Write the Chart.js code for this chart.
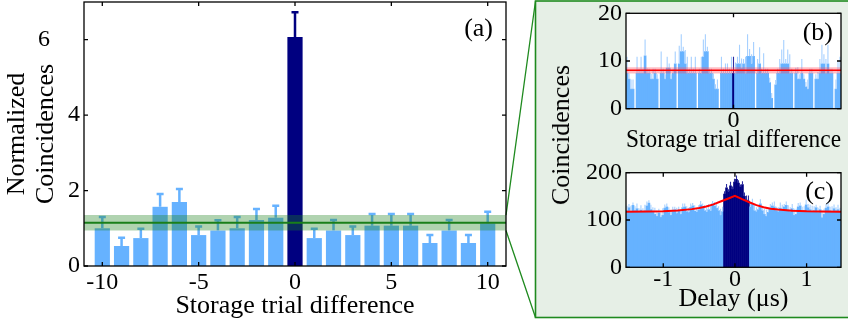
<!DOCTYPE html>
<html>
<head>
<meta charset="utf-8">
<script src="https://cdn.jsdelivr.net/npm/chart.js@4.4.1/dist/chart.umd.min.js"></script>
<style>
  html, body { margin: 0; padding: 0; background: #fff; }
  #wrap { position: relative; width: 848px; height: 327px; overflow: hidden; }
  #wrap canvas { position: absolute; left: 0; top: 0; }
  #insetTitle {
    position: absolute; left: 561px; top: 135px;
    transform: translate(-50%, -50%) rotate(-90deg);
    font: 26px 'Liberation Serif'; line-height: 1; white-space: nowrap; color: #000;
  }
</style>
</head>
<body>
<div id="wrap">
  <canvas id="chartA" width="848" height="327"></canvas>
  <canvas id="chartB" width="848" height="327"></canvas>
  <canvas id="chartC" width="848" height="327"></canvas>
  <div id="insetTitle">Coincidences</div>
</div>
<script>
// Panel (a): normalized coincidences vs storage trial difference
const aTrials = [-10, -9, -8, -7, -6, -5, -4, -3, -2, -1, 0, 1, 2, 3, 4, 5, 6, 7, 8, 9, 10];
const aValues = [1.00, 0.53, 0.74, 1.57, 1.70, 0.82, 0.94, 1.00, 1.22, 1.28, 6.07,
                 0.74, 0.94, 0.82, 1.07, 1.07, 1.07, 0.61, 0.94, 0.61, 1.13];
const aErrors = [0.30, 0.22, 0.25, 0.34, 0.34, 0.23, 0.27, 0.30, 0.29, 0.32, 0.66,
                 0.25, 0.28, 0.23, 0.31, 0.31, 0.31, 0.21, 0.28, 0.21, 0.31];
const aMean = 1.15;
const aBand = [0.94, 1.35];
const aXTicks = [-10, -5, 0, 5, 10];
const aYTicks = [0, 2, 4, 6];

// Panel (b): raw coincidences, one bin per storage trial difference
const bTrials = Array.from({length: 107}, (_, i) => i - 53);
const bValues = [
  7.4, 6.2, 4.1, 4.1, 0, 7.4, 7.4, 7.4, 7.4, 11.1,
  7.4, 7.4, 6.2, 6.2, 7.4, 6.2, 0, 7.4, 7.4, 6.2,
  8.5, 8.5, 6.2, 7.4, 9.4, 0, 9.4, 12.0, 12.0, 9.4,
  7.4, 7.4, 7.4, 7.4, 7.4, 0, 7.4, 7.4, 10.9, 12.0,
  12.0, 7.4, 7.4, 6.2, 4.1, 4.1, 0, 7.4, 7.4, 7.4,
  7.4, 7.4, 7.4,
  7.4,
  7.4, 9.4, 9.4, 8.5, 9.4, 7.4, 11.0, 11.0, 9.4, 11.0,
  0, 7.4, 9.4, 7.4, 7.4, 7.4, 7.4, 5.5, 2.2, 0,
  5.0, 7.4, 7.4, 9.4, 9.4, 9.4, 9.4, 7.4, 7.4, 0,
  7.4, 6.2, 6.2, 7.4, 6.2, 4.6, 4.1, 7.4, 7.4, 0,
  6.2, 6.2, 7.4, 9.4, 9.4, 7.4, 9.4, 7.4, 7.4, 0,
  4.1, 7.4, 7.4
];
const bErrors = [
  3.5, 1.2, 2.0, 2.0, 0, 3.5, 1.0, 3.5, 1.0, 3.4,
  1.1, 1.0, 1.1, 2.2, 1.0, 1.0, 0, 4.6, 1.0, 1.0,
  2.4, 1.0, 1.0, 1.0, 2.6, 0, 3.8, 3.6, 1.0, 2.9,
  3.5, 1.0, 3.5, 1.0, 3.5, 0, 1.0, 3.5, 3.6, 3.6,
  1.0, 1.0, 1.0, 1.2, 1.0, 2.0, 0, 3.5, 1.0, 2.1,
  2.1, 1.0, 3.5,
  3.5,
  2.3, 1.5, 4.0, 2.0, 1.0, 3.5, 4.6, 1.5, 2.0, 3.0,
  0, 3.0, 3.5, 1.0, 4.2, 1.0, 1.0, 1.0, 1.1, 0,
  1.0, 1.0, 3.0, 3.0, 5.0, 1.0, 3.0, 4.0, 1.0, 0,
  1.2, 2.5, 1.0, 3.0, 1.0, 1.0, 2.0, 1.0, 1.0, 0,
  1.0, 1.5, 3.0, 4.0, 2.0, 3.0, 4.0, 1.0, 1.0, 0,
  2.0, 2.5, 3.5
];
const bMean = 8.05;
const bBand = [7.4, 8.7];
const bXTicks = [0];
const bYTicks = [0, 10, 20];

// Panel (c): coincidences vs delay (us)
const cStart = -1.52;
const cStep = 3 / 108;
const cCounts = [
  120, 126, 118, 131, 120, 124, 118, 121, 117, 120,
  130, 136, 122, 119, 112, 108, 115, 106, 110, 125,
  128, 116, 110, 118, 122, 114, 120, 112, 126, 128,
  118, 116, 127, 130, 119, 117, 121, 132, 128, 120,
  117, 122, 119, 134, 130, 125, 120, 110, 118,
  155, 168, 160, 172, 165, 180, 186, 178, 170, 175, 150, 142, 140,
  128, 135, 120, 118, 122, 134, 120, 112, 108, 116,
  124, 130, 128, 120, 118, 125, 122, 128, 131, 120,
  118, 124, 110, 112, 128, 130, 118, 120, 132, 126,
  122, 118, 120, 126, 116, 122, 105, 112, 125, 128,
  120, 118, 124, 120, 122, 118
];
const cErrors = [
  10, 8, 12, 6, 9, 11, 7, 10, 8, 12,
  9, 6, 10, 8, 14, 12, 9, 10, 15, 8,
  7, 11, 9, 10, 6, 12, 8, 10, 9, 7,
  11, 10, 8, 6, 12, 9, 10, 8, 7, 11,
  9, 12, 10, 6, 8, 10, 9, 14, 10,
  6, 8, 5, 9, 6, 7, 8, 6, 5, 7, 8, 10, 12,
  8, 10, 12, 9, 6, 10, 8, 12, 14, 9,
  10, 7, 11, 8, 9, 12, 10, 6, 8, 11,
  9, 10, 14, 12, 8, 7, 10, 9, 11, 8,
  10, 12, 9, 6, 10, 8, 15, 12, 9, 10,
  8, 11, 9, 7, 10, 8
];
const cDelays = cCounts.map((_, i) => cStart + (i + 0.5) * cStep);
const cWindow = [-0.17, 0.19];
const cFitDelay = [-1.52, -1.2, -1.0, -0.8, -0.6, -0.5, -0.4, -0.3, -0.2, -0.1, 0,
                   0.1, 0.2, 0.3, 0.4, 0.5, 0.6, 0.8, 1.0, 1.2, 1.48];
const cFitValue = [117.5, 117.8, 118.3, 120, 123, 125.5, 128.5, 133, 139, 145, 151,
                   144, 137.5, 131.5, 127, 124, 122, 119.5, 118.3, 117.8, 117.5];
const cXTicks = [-1, 0, 1];
const cYTicks = [0, 100, 200];

const LIGHT = '#66b2ff';
const LIGHT_TIP = '#a6d0ff';
const NAVY = '#000080';
const DARK_TIP = '#2c2ca0';

Chart.defaults.font.family = "'Liberation Serif', 'Times New Roman', serif";
Chart.defaults.color = '#000';

// fixed axis size so the plot areas land where the figure has them
function fixedAxis(size, ticks) {
  return {
    afterFit(axis) {
      if (axis.isHorizontal()) {
        axis.height = size;
        axis.paddingLeft = 0;
        axis.paddingRight = 0;
      } else {
        axis.width = size;
        axis.paddingTop = 0;
        axis.paddingBottom = 0;
      }
    },
    afterBuildTicks(axis) {
      axis.ticks = ticks.map(v => ({value: v}));
    }
  };
}

// black box round the plot with inward ticks on all four sides
const frame = {
  id: 'frame',
  afterDraw(chart, args, opts) {
    const {ctx, chartArea: a, scales: {x, y}} = chart;
    const len = opts.tick || 4;
    ctx.save();
    ctx.strokeStyle = '#000';
    ctx.lineWidth = 1.3;
    ctx.strokeRect(a.left, a.top, a.right - a.left, a.bottom - a.top);
    ctx.beginPath();
    x.ticks.forEach(t => {
      const px = x.getPixelForValue(t.value);
      ctx.moveTo(px, a.top); ctx.lineTo(px, a.top + len);
      ctx.moveTo(px, a.bottom); ctx.lineTo(px, a.bottom - len);
    });
    y.ticks.forEach(t => {
      const py = y.getPixelForValue(t.value);
      ctx.moveTo(a.left, py); ctx.lineTo(a.left + len, py);
      ctx.moveTo(a.right, py); ctx.lineTo(a.right - len, py);
    });
    ctx.stroke();
    ctx.restore();
  }
};

const panelLabel = {
  id: 'panelLabel',
  afterDraw(chart, args, opts) {
    const {ctx, chartArea: a} = chart;
    ctx.save();
    ctx.font = "26px 'Liberation Serif'";
    ctx.fillStyle = '#000';
    ctx.textAlign = 'right';
    ctx.textBaseline = 'alphabetic';
    ctx.fillText(opts.text, a.right - opts.dx, a.top + opts.dy);
    ctx.restore();
  }
};

const plotBg = {
  id: 'plotBg',
  beforeDraw(chart) {
    const {ctx, chartArea: a} = chart;
    ctx.save();
    ctx.fillStyle = '#fff';
    ctx.fillRect(a.left, a.top, a.right - a.left, a.bottom - a.top);
    ctx.restore();
  }
};

// green inset box with the two lines that lead to the band in (a)
const insetBox = {
  id: 'insetBox',
  beforeDraw(chart, args, o) {
    const {ctx, chartArea: a, scales: {y}} = chart;
    ctx.save();
    ctx.fillStyle = '#e6efe6';
    ctx.fillRect(o.left, o.top, o.right - o.left, o.bottom - o.top);
    ctx.strokeStyle = '#1f8a1f';
    ctx.lineWidth = 1.6;
    ctx.strokeRect(o.left, o.top, o.right - o.left, o.bottom - o.top);
    ctx.lineWidth = 1.3;
    ctx.beginPath();
    ctx.moveTo(a.right, y.getPixelForValue(aBand[1])); ctx.lineTo(o.left, o.top);
    ctx.moveTo(a.right, y.getPixelForValue(aBand[0])); ctx.lineTo(o.left, o.bottom);
    ctx.stroke();
    ctx.restore();
  }
};

// one-sided error bars with caps on the bars of (a)
const errorBars = {
  id: 'errorBars',
  afterDatasetDraw(chart, args) {
    if (args.index !== 0) return;
    const {ctx, scales: {x, y}} = chart;
    ctx.save();
    ctx.lineWidth = 2.5;
    aTrials.forEach((t, i) => {
      const px = x.getPixelForValue(t);
      const y0 = y.getPixelForValue(aValues[i]);
      const y1 = y.getPixelForValue(aValues[i] + aErrors[i]);
      ctx.strokeStyle = t === 0 ? NAVY : LIGHT;
      ctx.beginPath();
      ctx.moveTo(px, y0); ctx.lineTo(px, y1);
      ctx.moveTo(px - 3.5, y1); ctx.lineTo(px + 3.5, y1);
      ctx.stroke();
    });
    ctx.restore();
  }
};

const tickFont = {size: 24};
const titleFont = {size: 26, lineHeight: 1.15};
const noGrid = {display: false, drawTicks: false};
const flat = (x0, x1, v) => [{x: x0, y: v}, {x: x1, y: v}];

// ---- (a)
const aMin = -10.95, aMax = 10.95;
new Chart(document.getElementById('chartA'), {
  type: 'bar',
  data: {
    datasets: [
      {
        data: aTrials.map((t, i) => ({x: t, y: aValues[i]})),
        backgroundColor: ctx => aTrials[ctx.dataIndex] === 0 ? NAVY : LIGHT,
        barPercentage: 0.79,
        categoryPercentage: 1,
        order: 3
      },
      {
        type: 'line', data: flat(aMin, aMax, aBand[1]),
        borderWidth: 0, pointRadius: 0, fill: '+1',
        backgroundColor: 'rgba(30,130,30,0.35)', order: 1
      },
      {
        type: 'line', data: flat(aMin, aMax, aBand[0]),
        borderWidth: 0, pointRadius: 0, fill: false, order: 1
      },
      {
        type: 'line', data: flat(aMin, aMax, aMean),
        borderColor: '#1a7f1a', borderWidth: 2, pointRadius: 0, fill: false, order: 0
      }
    ]
  },
  options: {
    responsive: false,
    animation: false,
    events: [],
    layout: {padding: {left: 0, top: 2, right: 342, bottom: 0}},
    scales: {
      x: {
        type: 'linear', min: aMin, max: aMax, offset: false,
        grid: noGrid, border: {display: false},
        ticks: {font: tickFont, padding: 2, maxRotation: 0, autoSkip: false, callback: v => String(v)},
        title: {display: true, text: 'Storage trial difference', font: titleFont, padding: {top: 0, bottom: 6}},
        ...fixedAxis(61, aXTicks)
      },
      y: {
        min: 0, max: 7,
        grid: noGrid, border: {display: false},
        ticks: {font: tickFont, padding: 4, autoSkip: false,
                callback: v => v === 6 ? '6\u2007\u2007 ' : String(v)},
        title: {display: true, text: ['Normalized', 'Coincidences'],
                font: {size: 26, lineHeight: 1.115}, padding: {top: 3, bottom: 0}},
        ...fixedAxis(84, aYTicks)
      }
    },
    plugins: {
      legend: {display: false},
      tooltip: {enabled: false},
      frame: {tick: 4},
      panelLabel: {text: '(a)', dx: 13, dy: 34},
      insetBox: {left: 535.5, top: 1, right: 850, bottom: 317.5}
    }
  },
  plugins: [insetBox, errorBars, frame, panelLabel]
});

// ---- (b)
const bMin = -53.5, bMax = 53.5;
new Chart(document.getElementById('chartB'), {
  type: 'bar',
  data: {
    datasets: [
      {
        data: bTrials.map((t, i) => ({x: t, y: bValues[i]})),
        backgroundColor: ctx => bTrials[ctx.dataIndex] === 0 ? NAVY : LIGHT,
        barPercentage: 1, categoryPercentage: 1, grouped: false, order: 4
      },
      {
        data: bTrials.map((t, i) => ({x: t, y: [bValues[i], bValues[i] + bErrors[i]]})),
        backgroundColor: ctx => bTrials[ctx.dataIndex] === 0 ? DARK_TIP : LIGHT_TIP,
        barPercentage: 0.55, categoryPercentage: 1, grouped: false, order: 3
      },
      {
        type: 'line', data: flat(bMin, bMax, bBand[1]),
        borderWidth: 0, pointRadius: 0, fill: '+1',
        backgroundColor: 'rgba(255,70,90,0.35)', order: 1
      },
      {
        type: 'line', data: flat(bMin, bMax, bBand[0]),
        borderWidth: 0, pointRadius: 0, fill: false, order: 1
      },
      {
        type: 'line', data: flat(bMin, bMax, bMean),
        borderColor: '#ff0000', borderWidth: 1.6, pointRadius: 0, fill: false, order: 0
      }
    ]
  },
  options: {
    responsive: false,
    animation: false,
    events: [],
    layout: {padding: {left: 586, top: 13.3, right: 7, bottom: 172.3}},
    scales: {
      x: {
        type: 'linear', min: bMin, max: bMax, offset: false,
        grid: noGrid, border: {display: false},
        ticks: {font: tickFont, padding: -2, maxRotation: 0, autoSkip: false, callback: v => String(v)},
        title: {display: true, text: 'Storage trial difference', font: titleFont, padding: {top: 0, bottom: 0}},
        ...fixedAxis(46, bXTicks)
      },
      y: {
        min: 0, max: 20,
        grid: noGrid, border: {display: false},
        ticks: {font: tickFont, padding: 4, autoSkip: false, callback: v => String(v)},
        ...fixedAxis(40, bYTicks)
      }
    },
    plugins: {
      legend: {display: false},
      tooltip: {enabled: false},
      frame: {tick: 4},
      panelLabel: {text: '(b)', dx: 8, dy: 27}
    }
  },
  plugins: [plotBg, frame, panelLabel]
});

// ---- (c)
const cMin = -1.52, cMax = 1.48;
const inWindow = d => d >= cWindow[0] && d <= cWindow[1];
new Chart(document.getElementById('chartC'), {
  type: 'bar',
  data: {
    datasets: [
      {
        data: cDelays.map((d, i) => ({x: d, y: cCounts[i]})),
        backgroundColor: ctx => inWindow(cDelays[ctx.dataIndex]) ? NAVY : LIGHT,
        barPercentage: 1, categoryPercentage: 1, grouped: false, order: 4
      },
      {
        data: cDelays.map((d, i) => ({x: d, y: [cCounts[i], cCounts[i] + cErrors[i]]})),
        backgroundColor: ctx => inWindow(cDelays[ctx.dataIndex]) ? DARK_TIP : LIGHT_TIP,
        barPercentage: 0.55, categoryPercentage: 1, grouped: false, order: 3
      },
      {
        type: 'line', data: cFitDelay.map((d, i) => ({x: d, y: cFitValue[i]})),
        borderColor: '#ff0000', borderWidth: 2, pointRadius: 0, tension: 0, fill: false, order: 0
      }
    ]
  },
  options: {
    responsive: false,
    animation: false,
    events: [],
    layout: {padding: {left: 576, top: 172.7, right: 7, bottom: 12.7}},
    scales: {
      x: {
        type: 'linear', min: cMin, max: cMax, offset: false,
        grid: noGrid, border: {display: false},
        ticks: {font: tickFont, padding: -2, maxRotation: 0, autoSkip: false, callback: v => String(v)},
        title: {display: true, text: 'Delay (\u03bcs)', font: titleFont, padding: {top: 0, bottom: 0}},
        ...fixedAxis(47, cXTicks)
      },
      y: {
        min: 0, max: 200,
        grid: noGrid, border: {display: false},
        ticks: {font: tickFont, padding: 4, autoSkip: false, callback: v => String(v)},
        ...fixedAxis(50, cYTicks)
      }
    },
    plugins: {
      legend: {display: false},
      tooltip: {enabled: false},
      frame: {tick: 4},
      panelLabel: {text: '(c)', dx: 7, dy: 26}
    }
  },
  plugins: [plotBg, frame, panelLabel]
});
</script>
</body>
</html>
